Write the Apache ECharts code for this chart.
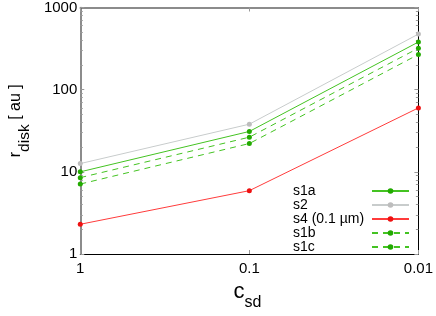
<!DOCTYPE html>
<html><head><meta charset="utf-8">
<script src="https://cdn.jsdelivr.net/npm/echarts@6/dist/echarts.min.js"></script>
<style>html,body{margin:0;padding:0;background:#fff}#c{width:436px;height:316px}</style>
</head><body><div id="c"></div>
<script>
// x values (c_sd)
const csd = [1, 0.1, 0.01];
// series values (r_disk in au)
const s1a = [10.0, 31.0, 380];
const s2  = [12.6, 38.0, 475];
const s4  = [2.3, 5.9, 60];
const s1b = [8.5, 26.4, 320];
const s1c = [7.1, 22.1, 268];
const seriesNames = ['s1a', 's2', 's4 (0.1 µm)', 's1b', 's1c'];
// tick values
const yMajor = [1, 10, 100, 1000];
const yMinor = [2, 3, 4, 5, 6, 7, 8, 9, 20, 30, 40, 50, 60, 70, 80, 90, 200, 300, 400, 500, 600, 700, 800, 900];
const xTicks = [0.01, 0.1, 1];

const FONT = 'Liberation Sans, Arial, Helvetica, sans-serif';
const green = '#44c322', greenDot = '#22aa00';
const pairs = v => csd.map((x, i) => [x, v[i]]);

function mkSeries(name, vals, color, dotColor, type) {
  return {
    name, type: 'line', data: pairs(vals), xAxisIndex: 0, yAxisIndex: 0,
    symbol: 'circle', symbolSize: 5, showSymbol: true, clip: false,
    lineStyle: { color, width: 1, type: type },
    itemStyle: { color: dotColor },
    emphasis: { disabled: true }, animation: false
  };
}

const chart = echarts.init(document.getElementById('c'), null, { renderer: 'canvas' });
chart.setOption({
  animation: false,
  grid: { left: 64, right: 17, top: 7, bottom: 62, containLabel: false },
  xAxis: [
    {
      type: 'log', logBase: 10, min: 0.01, max: 1, inverse: true, position: 'bottom',
      axisLine: { show: true, lineStyle: { color: '#000', width: 1 } },
      axisTick: { show: true, inside: true, length: 4, lineStyle: { color: '#999' }, customValues: xTicks },
      axisLabel: { show: true, margin: 7, color: '#000', fontSize: 15, fontFamily: FONT,
        customValues: xTicks, formatter: v => String(v) },
      splitLine: { show: false },
      name: '{c|c}{s|sd}', nameLocation: 'middle', nameGap: 26,
      nameTextStyle: { rich: {
        c: { fontSize: 22, fontFamily: FONT, color: '#000', verticalAlign: 'top', lineHeight: 30 },
        s: { fontSize: 16, fontFamily: FONT, color: '#000', verticalAlign: 'bottom', lineHeight: 30, padding: [0, 4, 0, 0] }
      } }
    },
    {
      type: 'log', logBase: 10, min: 0.01, max: 1, inverse: true, position: 'top',
      axisLine: { show: true, lineStyle: { color: '#666', width: 1.5 } },
      axisTick: { show: true, inside: true, length: 4, lineStyle: { color: '#999' }, customValues: xTicks },
      axisLabel: { show: false }, splitLine: { show: false }
    }
  ],
  yAxis: [
    {
      type: 'log', logBase: 10, min: 1, max: 1000, position: 'left',
      axisLine: { show: true, lineStyle: { color: '#666', width: 1.5 } },
      axisTick: { show: true, inside: true, length: 4, lineStyle: { color: '#999' }, customValues: yMajor },
      axisLabel: { show: true, margin: 3, color: '#000', fontSize: 15, fontFamily: FONT,
        customValues: yMajor, formatter: v => String(v) },
      splitLine: { show: false },
      name: '{r|r}{s|disk}{r| [ au ]}', nameLocation: 'middle', nameGap: 35, nameRotate: 90,
      nameTextStyle: { padding: [0, 0, 0, 20], rich: {
        r: { fontSize: 16, fontFamily: FONT, color: '#000', verticalAlign: 'top', lineHeight: 25 },
        s: { fontSize: 15.5, fontFamily: FONT, color: '#000', verticalAlign: 'bottom', lineHeight: 25 }
      } }
    },
    {
      type: 'log', logBase: 10, min: 1, max: 1000, position: 'left',
      axisLine: { show: false },
      axisTick: { show: true, inside: true, length: 2.5, lineStyle: { color: '#999' }, customValues: yMinor },
      axisLabel: { show: false }, splitLine: { show: false }
    },
    {
      type: 'log', logBase: 10, min: 1, max: 1000, position: 'right',
      axisLine: { show: true, lineStyle: { color: '#000', width: 1 } },
      axisTick: { show: true, inside: true, length: 4, lineStyle: { color: '#999' }, customValues: yMajor },
      axisLabel: { show: false }, splitLine: { show: false }
    },
    {
      type: 'log', logBase: 10, min: 1, max: 1000, position: 'right',
      axisLine: { show: false },
      axisTick: { show: true, inside: true, length: 2.5, lineStyle: { color: '#999' }, customValues: yMinor },
      axisLabel: { show: false }, splitLine: { show: false }
    }
  ],
  legend: {
    orient: 'vertical', left: 293, top: 184, align: 'right', padding: 0,
    itemWidth: 37, itemHeight: 7, itemGap: 0,
    data: seriesNames,
    formatter: n => '{t|' + n + '}',
    textStyle: { rich: { t: { width: 74, align: 'left', fontSize: 14, lineHeight: 14, fontFamily: FONT, color: '#000' } } },
    selectedMode: false
  },
  series: [
    mkSeries(seriesNames[0], s1a, green, greenDot, 'solid'),
    mkSeries(seriesNames[1], s2, '#c8cccc', '#bdbdbd', 'solid'),
    mkSeries(seriesNames[2], s4, '#ff3b3b', '#ee1111', 'solid'),
    mkSeries(seriesNames[3], s1b, green, greenDot, [6, 5]),
    mkSeries(seriesNames[4], s1c, green, greenDot, [6, 5])
  ]
});
</script></body></html>
